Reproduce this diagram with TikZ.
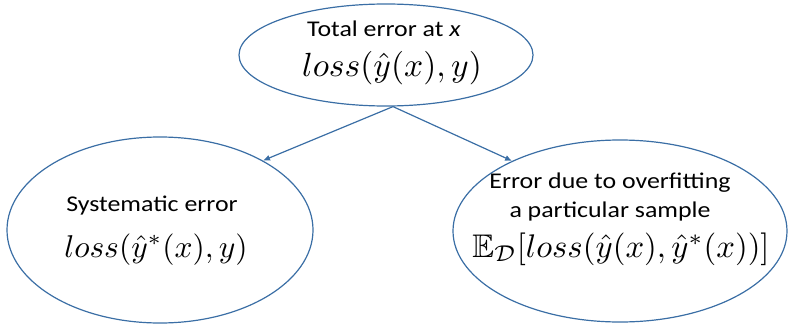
\documentclass[tikz,border=0pt]{standalone}
\usepackage{amsmath,amssymb}
\usepackage{graphicx}
\usepackage{fontspec}
\setmainfont{Carlito}[FakeStretch=1.15]
\usepackage{xcolor}
\usetikzlibrary{arrows.meta,shapes.geometric}
\definecolor{errblue}{HTML}{3A6EA5}
\newcommand{\bigeq}[2][3.2]{\scalebox{#1}{$#2$}}
\tikzset{
  oval/.style={draw=errblue,ellipse,line width=1.2pt,inner sep=0pt},
  lbl/.style={align=center,font=\fontsize{22.5}{29}\selectfont,inner sep=0pt,anchor=base},
  eq/.style={inner sep=0pt,anchor=base},
  arr/.style={-{Latex[length=7pt,width=6pt]},draw=errblue,line width=1.2pt},
}

\begin{document}
\begin{tikzpicture}[x=1pt,y=-1pt]
\useasboundingbox (0,0) rectangle (789,329);
% the three ellipses
\node[oval,minimum width=294pt,minimum height=102pt] (total) at (386,55) {};
\node[oval,minimum width=306pt,minimum height=186pt] (sys) at (160,230) {};
\node[oval,minimum width=334pt,minimum height=182pt] (over) at (620,231) {};
% texts
\node[lbl] (totaltxt) at (384,37) {Total error at \textit{x}};
\node[eq] (totaleq) at (392,77) {\bigeq[3.35]{loss(\hat{y}(x),y)}};
\node[lbl] (systxt) at (152,211) {Systematic error};
\node[eq] (syseq) at (156,257) {\bigeq[3.15]{loss(\hat{y}^{*}(x),y)}};
\node[lbl] (overtxt) at (610,217) {Error due to overfitting\\a particular sample};
\node[eq] (overeq) at (621,257) {\bigeq[3.27]{\mathbb{E}_{\mathcal{D}}[loss(\hat{y}(x),\hat{y}^{*}(x))]}};
% arrows
\draw[arr] ([xshift=7pt]total.south) -- (sys.34);
\draw[arr] ([xshift=7pt]total.south) -- (over.147);
\end{tikzpicture}
\end{document}
